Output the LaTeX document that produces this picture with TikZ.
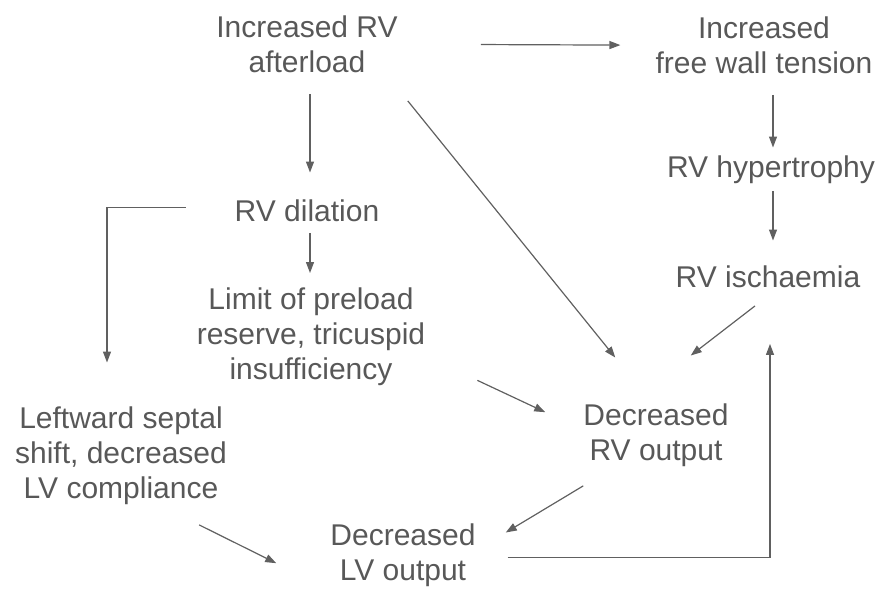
\documentclass[tikz,border=0pt]{standalone}
\usepackage{fontspec}
\setmainfont{Liberation Sans}
\usetikzlibrary{arrows.meta}
\definecolor{Ink}{RGB}{88,88,88}
\definecolor{Wire}{RGB}{96,96,96}

\begin{document}
\begin{tikzpicture}[x=1pt,y=-1pt,
    txt/.style={anchor=north,align=center,inner sep=0pt,text=Ink,
                font=\fontsize{30}{35}\selectfont},
    arr/.style={draw=Wire,line width=1.2pt,-{Triangle[length=11pt,width=8pt]}}]
\useasboundingbox (0,0) rectangle (879,590);

\node[txt] (aft)  at (307,15.5)  {Increased RV\\afterload};
\node[txt] (wall) at (764,16.5)  {Increased\\free wall tension};
\node[txt] (hyp)  at (771,155.5) {RV hypertrophy};
\node[txt] (isch) at (768,265.5) {RV ischaemia};
\node[txt] (dil)  at (307,199.5) {RV dilation};
\node[txt] (lim)  at (311,288)   {Limit of preload\\reserve, tricuspid\\insufficiency};
\node[txt] (left) at (121,406.5) {Leftward septal\\shift, decreased\\LV compliance};
\node[txt] (rvo)  at (656,403.5) {Decreased\\RV output};
\node[txt] (lvo)  at (403,523.5) {Decreased\\LV output};

\draw[arr,shorten <=21pt,shorten >=27pt] ([xshift=3pt]aft.south) -- ([xshift=3pt]aft.south |- dil.north);
\draw[arr,shorten <=11pt,shorten >=15pt] ([xshift=3pt]dil.south) -- ([xshift=3pt]dil.south |- lim.north);
\draw[arr,shorten <=83pt,shorten >=35pt] (aft.east) -- (wall.west);
\draw[arr,shorten <=21pt,shorten >=8pt]  ([xshift=9pt]wall.south) -- ([xshift=9pt]wall.south |- hyp.north);
\draw[arr,shorten <=7pt,shorten >=25pt]  ([xshift=2pt]hyp.south) -- ([xshift=2pt]hyp.south |- isch.north);
\draw[arr] ([shift={(10,28)}]aft.south east) -- ([shift={(32,-46)}]rvo.north west);
\draw[arr] ([shift={(-13,18)}]isch.south) -- ([shift={(-38,-48)}]rvo.north east);
\draw[arr] ([shift={(52,-6)}]lim.south east) -- ([shift={(-38,-23)}]rvo.west);
\draw[arr] ([shift={(0,19)}]rvo.south west) -- ([shift={(30,9)}]lvo.north east);
\draw[arr] ([shift={(-28,20)}]left.south east) -- ([shift={(-54,8)}]lvo.west);
\draw[arr] ([shift={(-49,-3)}]dil.west) -| ([shift={(-14,-44)}]left.north);
\draw[arr] ([shift={(32,2)}]lvo.east) -| ([shift={(2,56)}]isch.south);
\end{tikzpicture}
\end{document}
